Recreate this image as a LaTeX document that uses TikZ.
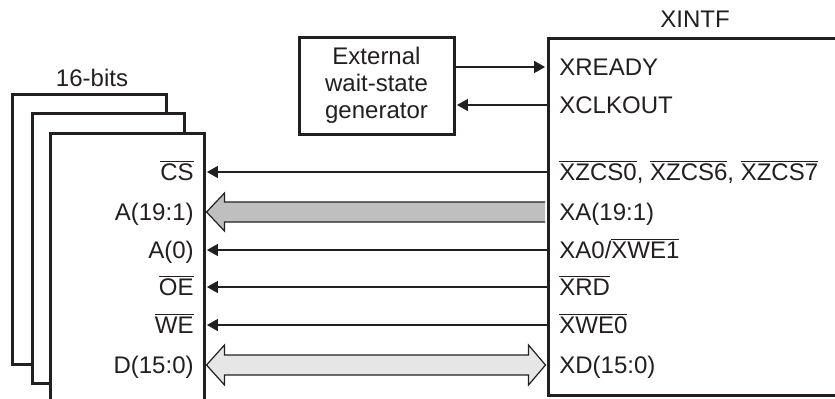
\documentclass[tikz,border=0pt]{standalone}
\usepackage{fontspec}
\setmainfont{Liberation Sans}
\usetikzlibrary{arrows.meta,positioning,calc}
\definecolor{tiInk}{HTML}{231F20}
\definecolor{busGray}{HTML}{BFBFBF}
\definecolor{busLight}{HTML}{E6E6E6}
\newcommand{\ovl}[1]{$\overline{\mbox{#1}}$}

\begin{document}
\begin{tikzpicture}[
    x=0.5pt, y=-0.5pt,
    every node/.style={font=\fontsize{12}{13.5}\selectfont, text=tiInk},
    chip/.style={draw=tiInk, line width=1.5pt, fill=white, inner sep=0pt},
    sig/.style={text height=8.6pt, text depth=0pt, inner sep=0pt},
    arr/.style={-{Triangle[length=5.5pt, width=6pt]}, tiInk, line width=0.6pt,
                shorten >=0.7pt},
    bus/.style={draw=tiInk, line width=0.6pt, line join=miter},
  ]
  \useasboundingbox (0,0) rectangle (835,398);

  % Memory stack
  \node[chip, minimum width=77pt, minimum height=135pt] (mem3) at (89,229) {};
  \node[chip, minimum width=76pt, minimum height=135pt] (mem2) at (108,248) {};
  \node[chip, minimum width=77pt, minimum height=150pt] (mem) at (127,283) {};
  \node[sig] (bits) at (92,78) {16-bits};

  % XINTF and wait-state generator
  \node[chip, minimum width=156pt, minimum height=178.5pt] (xintf) at (704,216.5) {};
  \node[sig] (xintflbl) at (695,19) {XINTF};
  \node[chip, minimum width=77.5pt, minimum height=48.5pt, align=center]
    (ext) at (376.5,85.5) {External\\wait-state\\generator};

  % Memory pins
  \node[sig, anchor=east] (mcs) at (194,172) {\ovl{CS}};
  \node[sig, anchor=east] (ma)  at (194,212) {A(19:1)};
  \node[sig, anchor=east] (ma0) at (194,250) {A(0)};
  \node[sig, anchor=east] (moe) at (194,287) {\ovl{OE}};
  \node[sig, anchor=east] (mwe) at (194,325) {\ovl{WE}};
  \node[sig, anchor=east] (md)  at (194,365) {D(15:0)};

  % XINTF pins
  \node[sig, anchor=west] (xrdy) at (559,67)  {XREADY};
  \node[sig, anchor=west] (xclk) at (559,105) {XCLKOUT};
  \node[sig, anchor=west] (xcs)  at (559,172) {\ovl{XZCS0}, \ovl{XZCS6}, \ovl{XZCS7}};
  \node[sig, anchor=west] (xa)   at (559,212) {XA(19:1)};
  \node[sig, anchor=west] (xa0)  at (559,250) {XA0/\ovl{XWE1}};
  \node[sig, anchor=west] (xrd)  at (559,287) {\ovl{XRD}};
  \node[sig, anchor=west] (xwe)  at (559,325) {\ovl{XWE0}};
  \node[sig, anchor=west] (xd)   at (559,365) {XD(15:0)};

  % Wait-state handshake
  \draw[arr] (xrdy.west -| ext.east) -- (xrdy.west -| xintf.west);
  \draw[arr] (xclk.west -| xintf.west) -- (xclk.west -| ext.east);

  % Control lines
  \draw[arr] (xcs.west -| xintf.west) -- (mcs.east -| mem.east);
  \draw[arr] (xa0.west -| xintf.west) -- (ma0.east -| mem.east);
  \draw[arr] (xrd.west -| xintf.west) -- (moe.east -| mem.east);
  \draw[arr] (xwe.west -| xintf.west) -- (mwe.east -| mem.east);

  % Address bus (open outline, tail meets the XINTF edge)
  \coordinate (atip) at ($(ma.east -| mem.east)+(1,0)$);
  \coordinate (aend) at ($(xa.west -| xintf.west)+(-1.5,0)$);
  \draw[bus, fill=busGray] ($(aend)+(0,-10)$) -- ($(atip)+(18,-10)$) -- ++(0,-9)
    -- (atip) -- ++(18,19) -- ++(0,-9) -- ($(aend)+(0,10)$);

  % Data bus
  \coordinate (dl) at ($(md.east -| mem.east)+(1,0)$);
  \coordinate (dr) at ($(xd.west -| xintf.west)+(-1,0)$);
  \draw[bus, fill=busLight] (dl) -- ++(18,-20) -- ++(0,10) -- ($(dr)+(-17,-10)$)
    -- ++(0,-10) -- (dr) -- ++(-17,20) -- ++(0,-10) -- ($(dl)+(18,10)$)
    -- ++(0,10) -- cycle;
\end{tikzpicture}
\end{document}
